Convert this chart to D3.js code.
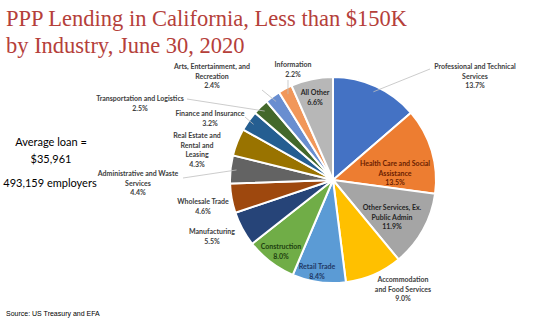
<!DOCTYPE html>
<html><head><meta charset="utf-8">
<script src="https://cdn.jsdelivr.net/npm/d3@7"></script>
<style>body{margin:0;background:#fff}svg{display:block}</style>
</head><body>
<script>
const categories = ["Professional and Technical Services","Health Care and Social Assistance","Other Services, Ex. Public Admin","Accommodation and Food Services","Retail Trade","Construction","Manufacturing","Wholesale Trade","Administrative and Waste Services","Real Estate and Rental and Leasing","Finance and Insurance","Transportation and Logistics","Arts, Entertainment, and Recreation","Information","All Other"];
const shares = [13.7,13.5,11.9,9.0,8.4,8.0,5.5,4.6,4.4,4.3,3.2,2.5,2.4,2.2,6.6];
const labelLines = [
 ["Professional and Technical","Services"],
 ["Health Care and Social","Assistance"],
 ["Other Services, Ex.","Public Admin"],
 ["Accommodation","and Food Services"],
 ["Retail Trade"],
 ["Construction"],
 ["Manufacturing"],
 ["Wholesale Trade"],
 ["Administrative and Waste","Services"],
 ["Real Estate and","Rental and","Leasing"],
 ["Finance and Insurance"],
 ["Transportation and Logistics"],
 ["Arts, Entertainment, and","Recreation"],
 ["Information"],
 ["All Other"]
];
const colors = ["#4472C4","#ED7D31","#A5A5A5","#FFC000","#5B9BD5","#70AD47","#264478","#9E480E","#636363","#997300","#255E91","#43682B","#698ED0","#F1975A","#B7B7B7"];
const textColors = ["#404040","#6b1d00","#262626","#404040","#1f3864","#1e4010","#404040","#404040","#404040","#404040","#404040","#404040","#404040","#404040","#262626"];
// label anchor (center x, first baseline y) and leader endpoints
const labelPos = [[475,69],[395,166],[392,210],[403,282],[317,269],[281,249],[212,234],[203,204],[138,176],[197,138],[210,116],[140,101],[212,69],[293,67],[315,95]];
const leaders = {0:[430,69],8:[183,178],10:[245,117],11:[187,99],12:[262,90],13:[288,80]};

const W=540,H=323, cx=333, cy=180, R=103;
const svg = d3.select("body").append("svg").attr("width",W).attr("height",H);

svg.append("text").attr("x",6).attr("y",26).attr("font-family","Liberation Serif, serif").attr("font-size",22.5).attr("fill","#B5403A").text("PPP Lending in California, Less than $150K");
svg.append("text").attr("x",6).attr("y",53).attr("font-family","Liberation Serif, serif").attr("font-size",22.5).attr("fill","#B5403A").text("by Industry, June 30, 2020");

const left = svg.append("g").attr("font-family","Lato, 'Open Sans', sans-serif").attr("font-size",11).attr("fill","#000").attr("text-anchor","middle");
left.append("text").attr("x",51).attr("y",146).text("Average loan =");
left.append("text").attr("x",51).attr("y",163).text("$35,961");
left.append("text").attr("x",50).attr("y",187).text("493,159 employers");

svg.append("text").attr("x",6).attr("y",316).attr("font-family","Liberation Sans, Arial, sans-serif").attr("font-size",7).attr("fill","#000").text("Source: US Treasury and EFA");

const pie = d3.pie().sort(null).value(d=>d);
const arcs = pie(shares);
const arc = d3.arc().innerRadius(0).outerRadius(R);
const g = svg.append("g").attr("transform",`translate(${cx},${cy})`);
g.selectAll("path").data(arcs).join("path").attr("d",arc).attr("fill",(d,i)=>colors[i]).attr("stroke","#fff").attr("stroke-width",2);

// leader lines
const outer = d3.arc().innerRadius(R-6).outerRadius(R-6);
Object.entries(leaders).forEach(([i,p])=>{
  const c = outer.centroid(arcs[+i]);
  svg.append("line").attr("x1",p[0]).attr("y1",p[1]).attr("x2",cx+c[0]).attr("y2",cy+c[1]).attr("stroke","#bfbfbf").attr("stroke-width",0.8);
});

const lg = svg.append("g").attr("font-family","Lato, 'Open Sans', sans-serif").attr("font-size",7).attr("font-weight","bold").attr("text-anchor","middle");
categories.forEach((c,i)=>{
  const lines = labelLines[i].concat([d3.format(".1f")(shares[i])+"%"]);
  const t = lg.append("text").attr("fill",textColors[i]);
  lines.forEach((s,k)=>{
    t.append("tspan").attr("x",labelPos[i][0]).attr("y",labelPos[i][1]+k*9.5).text(s);
  });
});
</script>
</body></html>
